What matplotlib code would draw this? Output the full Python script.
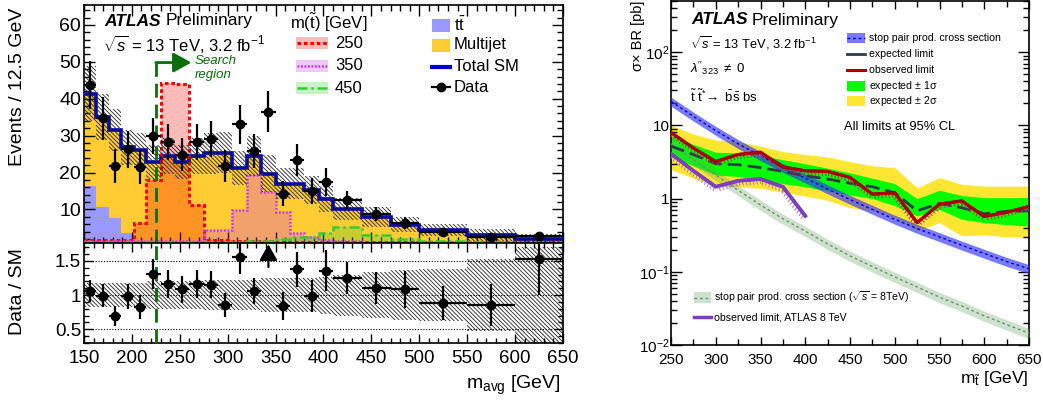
import numpy as np
import matplotlib
matplotlib.use("Agg")
import matplotlib.pyplot as plt
from matplotlib import patheffects as pe
from matplotlib.patches import Rectangle
from matplotlib.lines import Line2D
from matplotlib.ticker import MultipleLocator, FixedLocator, FixedFormatter, NullFormatter, LogLocator

plt.rcParams["font.family"] = ["Liberation Sans", "DejaVu Sans"]
plt.rcParams["mathtext.fontset"] = "custom"
plt.rcParams["mathtext.rm"] = "Liberation Sans"
plt.rcParams["mathtext.it"] = "Liberation Sans:italic"
plt.rcParams["mathtext.bf"] = "Liberation Sans:bold"
plt.rcParams["hatch.linewidth"] = 0.6

# ---------------------------------------------------------------- left panel data
bin_edges = [150, 163, 176, 189, 202, 215, 230, 245, 260, 275, 290, 305, 320,
             335, 350, 365, 380, 395, 410, 440, 470, 500, 550, 600, 650]
ttbar = [16.4, 10.7, 7.6, 3.5, 1.4, 0.9, 0.8, 0.7, 0.6, 0.6, 0.5, 0.5, 0.4,
         0.4, 0.3, 0.3, 0.3, 0.2, 0.2, 0.2, 0.1, 0.1, 0.1, 0.05]
multijet = [25.0, 24.3, 23.9, 23.3, 24.7, 22.0, 23.6, 22.1, 23.8, 24.6, 24.9, 20.7, 24.0,
            19.3, 16.7, 16.7, 14.9, 12.7, 9.9, 7.8, 5.8, 4.3, 2.95, 1.85]
sm_rel_unc = [0.18, 0.18, 0.18, 0.18, 0.18, 0.20, 0.20, 0.20, 0.20, 0.22, 0.22, 0.22, 0.22,
              0.25, 0.25, 0.25, 0.25, 0.27, 0.30, 0.33, 0.36, 0.38, 0.52, 0.70]
data = [43.7, 34.7, 21.7, 26.3, 21.5, 29.9, 28.3, 24.8, 28.3, 29.0, 21.7, 33.1, 25.9,
        36.5, 14.3, 23.4, 15.0, 17.5, 12.6, 8.8, 6.4, 3.9, 2.6, 2.9]
data_err = [6.5, 5.8, 4.6, 5.0, 4.5, 5.0, 4.9, 4.5, 4.9, 4.9, 4.3, 5.3, 4.6,
            5.5, 3.5, 4.4, 3.5, 3.8, 2.4, 1.9, 1.6, 1.1, 0.95, 1.0]
sig_250 = [1.6, 1.6, 1.6, 1.6, 6.2, 18.0, 44.3, 44.1, 11.2, 1.8, 1.6, 1.5, 1.4,
           1.4, 1.3, 1.3, 1.2, 1.2, 1.2, 1.1, 1.1, 1.1, 1.05, 1.05]
sig_350 = [1.4, 1.4, 1.4, 1.4, 1.4, 1.5, 1.5, 1.5, 1.5, 4.5, 4.5, 9.8, 19.2,
           14.8, 9.2, 3.5, 2.4, 1.6, 1.4, 1.3, 1.3, 1.2, 1.2, 1.1]
sig_450 = [1.2, 1.2, 1.2, 1.2, 1.2, 1.2, 1.2, 1.3, 1.3, 1.3, 1.3, 1.3, 1.4,
           1.5, 1.9, 2.5, 2.6, 3.7, 5.3, 3.0, 2.0, 1.4, 1.2, 1.1]
signal_labels = ["250", "350", "450"]
search_cut = 225

# ---------------------------------------------------------------- right panel data
stop_mass = [250, 275, 300, 325, 350, 375, 400, 425, 450, 475, 500, 525, 550, 575, 600, 625, 650]
xsec_13 = [21.3, 13.3, 8.5, 5.6, 3.85, 2.65, 1.9, 1.35, 0.97, 0.71, 0.52, 0.39, 0.30, 0.23, 0.178, 0.138, 0.11]
xsec_13_rel_unc = 0.14
xsec_8 = [5.6, 3.4, 2.1, 1.3, 0.82, 0.53, 0.36, 0.24, 0.165, 0.118, 0.085, 0.062, 0.045, 0.034, 0.025, 0.019, 0.0145]
xsec_8_rel_unc = 0.16
exp_limit = [5.2, 4.0, 3.0, 2.9, 2.65, 2.35, 2.05, 1.85, 1.62, 1.45, 1.2, 0.68, 0.86, 0.75, 0.62, 0.67, 0.68]
exp_p1 = [7.2, 5.5, 4.3, 4.2, 3.9, 3.4, 3.0, 2.6, 2.25, 1.9, 1.6, 1.0, 1.3, 1.1, 1.03, 1.03, 1.03]
exp_m1 = [3.7, 2.8, 2.1, 2.0, 1.8, 1.6, 1.45, 1.28, 1.12, 1.0, 0.8, 0.58, 0.71, 0.52, 0.47, 0.44, 0.42]
exp_p2 = [10.0, 7.6, 6.3, 6.0, 5.2, 4.4, 4.0, 3.7, 3.2, 2.8, 2.65, 1.4, 1.93, 1.57, 1.48, 1.48, 1.48]
exp_m2 = [2.5, 1.9, 1.5, 1.45, 1.38, 1.22, 1.08, 0.95, 0.75, 0.68, 0.55, 0.36, 0.47, 0.31, 0.32, 0.30, 0.295]
obs_limit = [8.0, 4.9, 3.2, 4.0, 4.3, 2.7, 2.4, 2.35, 1.95, 1.15, 1.2, 0.47, 0.84, 0.93, 0.57, 0.65, 0.78]
atlas8_mass = [250, 275, 300, 325, 350, 375, 400]
atlas8_obs = [4.1, 2.4, 1.45, 1.75, 1.85, 1.45, 0.58]

# ---------------------------------------------------------------- figure
W, H = 1043, 412
fig = plt.figure(figsize=(W / 100, H / 100), dpi=100)


def box(l, t, r, b):
    return [l / W, 1 - b / H, (r - l) / W, (b - t) / H]


def ftxt(px, py, s, **kw):
    kw.setdefault("va", "center")
    kw.setdefault("ha", "left")
    return fig.text(px / W, 1 - py / H, s, **kw)


def frect(x0, y0, x1, y1, **kw):
    fig.add_artist(Rectangle((x0 / W, 1 - y1 / H), (x1 - x0) / W, (y1 - y0) / H,
                             transform=fig.transFigure, **kw))


def fline(x0, x1, y, **kw):
    fig.add_artist(Line2D([x0 / W, x1 / W], [1 - y / H, 1 - y / H],
                          transform=fig.transFigure, **kw))


ax1 = fig.add_axes(box(84, 5, 563, 243))
ax2 = fig.add_axes(box(84, 243, 563, 343), sharex=ax1)
ax3 = fig.add_axes(box(671, 1, 1029, 345))

C_TT = "#9999ff"
C_MJ = "#ffcc33"
C_SM = "#0000cc"
C_SIG = ["#ff0000", "#cc33ff", "#33cc33"]
LS_SIG = [(0, (1.2, 0.9)), (0, (0.7, 0.7)), (0, (4, 1.5, 1, 1.5))]
LW_SIG = [2.2, 1.8, 1.8]
C_SR = "#0b6e0b"
HATCH = "\\" * 8

edges = np.array(bin_edges, float)
centers = 0.5 * (edges[1:] + edges[:-1])
halfw = 0.5 * np.diff(edges)
tt = np.array(ttbar)
mj = np.array(multijet)
sm = tt + mj
unc = np.array(sm_rel_unc)
d = np.array(data)
de = np.array(data_err)

# --- top panel
ax1.stairs(tt, edges, baseline=0, fill=True, color=C_TT, lw=0, zorder=1)
ax1.stairs(sm, edges, baseline=tt, fill=True, color=C_MJ, lw=0, zorder=1)
for vals, col in zip([sig_250, sig_350, sig_450], C_SIG):
    ax1.stairs(vals, edges, baseline=0, fill=True, facecolor=col, alpha=0.27, lw=0, zorder=2)
ax1.stairs(sm, edges, baseline=None, color=C_SM, lw=2.6, zorder=3)
for vals, col, ls, lw in zip([sig_250, sig_350, sig_450], C_SIG, LS_SIG, LW_SIG):
    ax1.stairs(vals, edges, baseline=None, color=col, linestyle=ls, lw=lw, zorder=4)
ax1.stairs(sm * (1 + unc), edges, baseline=sm * (1 - unc), fill=True, facecolor="none",
           edgecolor="#222222", hatch=HATCH, lw=0, zorder=5)
ax1.errorbar(centers, d, xerr=halfw, yerr=de, fmt="o", color="black", ms=6,
             elinewidth=1.6, capsize=0, zorder=7)

ylo1, yhi1 = 0.9, 65.4
ax1.set_xlim(150, 650)
ax1.set_ylim(ylo1, yhi1)
ax1.plot([search_cut, search_cut], [ylo1, 49.8], color=C_SR, lw=2, dashes=(5, 2.5), zorder=6)
ax1.annotate("", xy=(262, 49.8), xytext=(search_cut, 49.8),
             arrowprops=dict(arrowstyle="-|>,head_length=0.9,head_width=0.5", color=C_SR,
                             lw=2, mutation_scale=12, shrinkA=0, shrinkB=0), zorder=6)

ax1.yaxis.set_major_locator(MultipleLocator(10))
ax1.yaxis.set_minor_locator(MultipleLocator(2))
ax1.xaxis.set_major_locator(MultipleLocator(50))
ax1.xaxis.set_minor_locator(MultipleLocator(10))
ax1.tick_params(which="both", direction="in", top=True, right=True, labelbottom=False)
ax1.tick_params(which="major", length=8, width=1, labelsize=14, pad=2)
ax1.tick_params(which="minor", length=4, width=1)

# --- ratio panel
r = d / sm
re = de / sm
ylo2, yhi2 = 0.3, 1.76
ax2.stairs(1 + unc, edges, baseline=1 - unc, fill=True, facecolor="none",
           edgecolor="#222222", hatch=HATCH, lw=0, zorder=1)
for yv in [0.5, 1.0, 1.5]:
    ax2.axhline(yv, color="black", lw=0.8, ls=(0, (1, 1.5)), zorder=2)
inr = r < yhi2
ax2.errorbar(centers[inr], r[inr], xerr=halfw[inr], yerr=re[inr], fmt="o", color="black",
             ms=6, elinewidth=1.6, capsize=0, zorder=5)
for c in centers[~inr]:
    ax2.annotate("", xy=(c, 1.74), xytext=(c, 1.41),
                 arrowprops=dict(arrowstyle="-|>,head_length=0.8,head_width=0.45",
                                 color="black", lw=1.6, mutation_scale=12,
                                 shrinkA=0, shrinkB=0), zorder=5)
ax2.plot([search_cut, search_cut], [ylo2, yhi2], color=C_SR, lw=2, dashes=(5, 2.5), zorder=4)
ax2.set_ylim(ylo2, yhi2)
ax2.set_xlim(150, 650)
ax2.yaxis.set_major_locator(FixedLocator([0.5, 1.0, 1.5]))
ax2.yaxis.set_major_formatter(FixedFormatter(["0.5", "1", "1.5"]))
ax2.yaxis.set_minor_locator(MultipleLocator(0.1))
ax2.tick_params(which="both", direction="in", top=True, right=True)
ax2.tick_params(which="major", length=6.5, width=1, labelsize=13.5, pad=2)
ax2.tick_params(axis="x", which="major", labelsize=13.5, pad=5)
ax2.tick_params(which="minor", length=3.5, width=1)

for ax in (ax1, ax2, ax3):
    for sp in ax.spines.values():
        sp.set_linewidth(1.2)

# --- left texts
ftxt(104, 21, "ATLAS", fontsize=12.5, fontweight="bold", fontstyle="italic")
ftxt(166, 21, "Preliminary", fontsize=12.5)
ftxt(103, 44, r"$\sqrt{s}$ = 13 TeV, 3.2 fb$^{-1}$", fontsize=12)
ftxt(195, 61, "Search", fontsize=9.5, fontstyle="italic", color=C_SR)
ftxt(195, 75, "region", fontsize=9.5, fontstyle="italic", color=C_SR)
ftxt(18, 8, "Events / 12.5 GeV", fontsize=14, rotation=90, ha="center", va="top")
ftxt(18, 292, "Data / SM", fontsize=14, rotation=90, ha="center", va="center")
ftxt(561, 385, r"m$_{\mathrm{avg}}$ [GeV]", fontsize=14, ha="right")

# left legend (signals)
ftxt(290, 23, r"m($\tilde{\mathrm{t}}$) [GeV]", fontsize=12)
for yy, lab, col, ls, lw in zip([43.3, 65.7, 88.3], signal_labels, C_SIG, LS_SIG, LW_SIG):
    frect(296, yy - 6, 328, yy + 6, facecolor=col, alpha=0.27, lw=0)
    fline(297, 327, yy, color=col, linestyle=ls, lw=lw)
    ftxt(335, yy, lab, fontsize=12)
# left legend (SM)
frect(432, 18.5, 450, 31.5, facecolor=C_TT, lw=0)
ftxt(454, 25, r"$\mathrm{t}\bar{\mathrm{t}}$", fontsize=12)
frect(432, 38.5, 450, 51.5, facecolor=C_MJ, lw=0)
ftxt(454, 45, "Multijet", fontsize=12)
fline(432, 450, 66.7, color=C_SM, lw=3)
ftxt(454, 66.7, "Total SM", fontsize=12)
fline(432, 450, 87.3, color="black", lw=1.6)
fig.add_artist(Line2D([441 / W], [1 - 87.3 / H], transform=fig.transFigure, marker="o",
                      ms=6, color="black"))
ftxt(454, 87.3, "Data", fontsize=12)

# ---------------------------------------------------------------- right panel
m = np.array(stop_mass, float)
x13 = np.array(xsec_13)
x8 = np.array(xsec_8)
ax3.set_yscale("log")
ax3.fill_between(m, exp_m2, exp_p2, color="#ffe633", lw=0, zorder=1)
ax3.fill_between(m, exp_m1, exp_p1, color="#00ff00", lw=0, zorder=2)
ax3.fill_between(m, x8 * (1 - xsec_8_rel_unc), x8 * (1 + xsec_8_rel_unc), color="#6a9f6a",
                 alpha=0.32, lw=0, zorder=3)
ax3.plot(m, x8, color="#5e9a5e", ls=(0, (2, 2)), lw=1, zorder=3.1)
ax3.fill_between(m, x13 * (1 - xsec_13_rel_unc), x13 * (1 + xsec_13_rel_unc), color="#3333ff",
                 alpha=0.65, lw=0, zorder=4)
ax3.plot(m, x13, color="#0000dd", ls=(0, (2, 2)), lw=1, zorder=4.1)
ax3.plot(m, exp_limit, color="#2f3a4a", lw=2, dashes=(5, 2.2), zorder=5)
ax3.plot(m, obs_limit, color="#aa0000", lw=2.2, zorder=6,
         path_effects=[pe.withTickedStroke(angle=-75, spacing=2.5, length=1.2,
                                           linewidth=0.7, foreground="#c0305a"), pe.Normal()])
ax3.plot(atlas8_mass, atlas8_obs, color="#7b3fbf", lw=2.5, zorder=6,
         path_effects=[pe.withTickedStroke(angle=-75, spacing=2.5, length=1.4,
                                           linewidth=0.7, foreground="#b070e0"), pe.Normal()])
ax3.set_xlim(250, 650)
ax3.set_ylim(0.01, 500)
ax3.xaxis.set_major_locator(MultipleLocator(50))
ax3.xaxis.set_minor_locator(MultipleLocator(25))
ax3.yaxis.set_major_locator(FixedLocator([0.01, 0.1, 1, 10, 100]))
ax3.yaxis.set_major_formatter(FixedFormatter([r"$10^{-2}$", r"$10^{-1}$", "1", "10", r"$10^{2}$"]))
ax3.yaxis.set_minor_locator(LogLocator(base=10, subs=np.arange(2, 10)))
ax3.yaxis.set_minor_formatter(NullFormatter())
ax3.tick_params(which="both", direction="in", top=True, right=True)
ax3.tick_params(which="major", length=8, width=1, labelsize=11)
ax3.tick_params(axis="y", which="major", pad=1.0)
ax3.tick_params(axis="x", which="major", length=6, pad=6)
ax3.tick_params(which="minor", length=4, width=1)

ftxt(638, 1, "σ× BR [pb]", fontsize=10.5, rotation=90, ha="center", va="top")
ftxt(1029, 379, r"m$_{\tilde{\mathrm{t}}}$ [GeV]", fontsize=12.5, ha="right")
ftxt(691, 20, "ATLAS", fontsize=12.5, fontweight="bold", fontstyle="italic")
ftxt(752, 20, "Preliminary", fontsize=12.5)
ftxt(690, 43, r"$\sqrt{s}$ = 13 TeV, 3.2 fb$^{-1}$", fontsize=9.3)
ftxt(690, 68, r"$\lambda''_{323}$ $\neq$ 0", fontsize=9.5)
ftxt(690, 97, r"$\tilde{\mathrm{t}}\ \tilde{\mathrm{t}}^{*}\!\rightarrow\ \bar{\mathrm{b}}\bar{\mathrm{s}}\ \mathrm{bs}$",
     fontsize=9.5)
ftxt(844, 127, "All limits at 95% CL", fontsize=9.3)

# right legend
leg_y = [38.3, 54, 70, 86, 101]
frect(847, leg_y[0] - 5, 865, leg_y[0] + 5, facecolor="#3333ff", alpha=0.65, lw=0)
fline(847, 865, leg_y[0], color="#0000dd", ls=(0, (2, 2)), lw=1)
ftxt(869, leg_y[0], "stop pair prod. cross section", fontsize=7.6)
fline(847, 865, leg_y[1], color="#2f3a4a", lw=2)
ftxt(869, leg_y[1], "expected limit", fontsize=7.6)
fline(847, 865, leg_y[2], color="#aa0000", lw=2.2)
ftxt(869, leg_y[2], "observed limit", fontsize=7.6)
frect(847, leg_y[3] - 5, 865, leg_y[3] + 5, facecolor="#00ff00", lw=0)
ftxt(869, leg_y[3], r"expected $\pm$ 1σ", fontsize=7.6)
frect(847, leg_y[4] - 5, 865, leg_y[4] + 5, facecolor="#ffe633", lw=0)
ftxt(869, leg_y[4], r"expected $\pm$ 2σ", fontsize=7.6)

frect(694, 292, 711, 303, facecolor="#6a9f6a", alpha=0.32, lw=0)
fline(694, 711, 297.5, color="#5e9a5e", ls=(0, (2, 2)), lw=1)
ftxt(714, 297.5, r"stop pair prod. cross section ($\sqrt{s}$ = 8TeV)", fontsize=7.6)
fline(694, 711, 317.3, color="#7b3fbf", lw=2.5)
ftxt(714, 317.3, "observed limit, ATLAS 8 TeV", fontsize=7.6)

fig.savefig("out.png", dpi=100)
